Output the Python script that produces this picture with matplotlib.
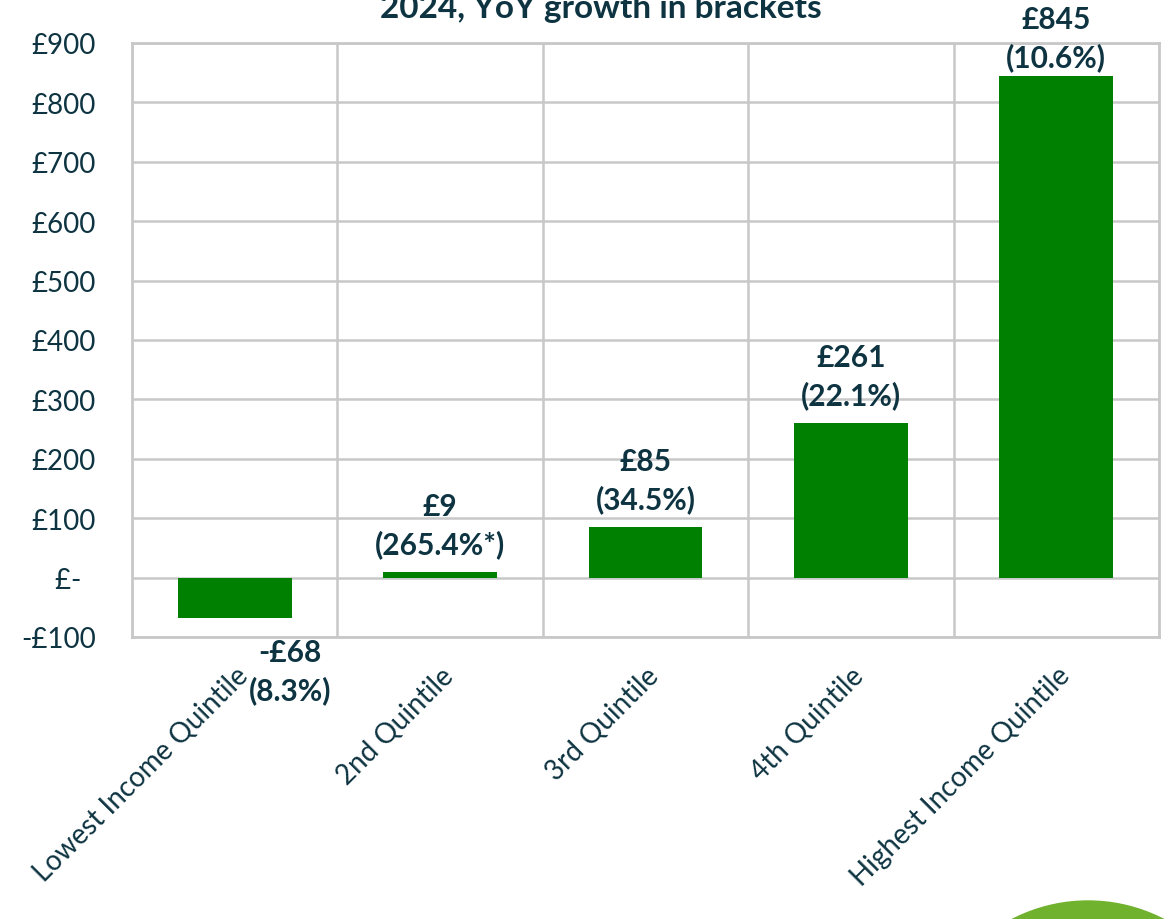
import matplotlib
matplotlib.use("Agg")
import matplotlib.pyplot as plt
from matplotlib.patches import Ellipse

categories = ["Lowest Income Quintile", "2nd Quintile", "3rd Quintile",
              "4th Quintile", "Highest Income Quintile"]
values = [-68, 9, 85, 261, 845]
growth = ["8.3%", "265.4%*", "34.5%", "22.1%", "10.6%"]
value_text = ["-£68", "£9", "£85", "£261", "£845"]
yticks = [-100, 0, 100, 200, 300, 400, 500, 600, 700, 800, 900]
ytick_labels = ["-£100", "£-  ", "£100", "£200", "£300", "£400", "£500",
                "£600", "£700", "£800", "£900"]

TXT = "#0E3442"
GREEN = "#008000"
GRID = "#C8C8C8"
FONT = ["Lato", "DejaVu Sans"]
plt.rcParams['font.family'] = FONT

W, H = 1168, 920
fig = plt.figure(figsize=(W / 100, H / 100), dpi=100)
ax = fig.add_axes([132 / W, 1 - 638 / H, (1159 - 132) / W, (638 - 44) / H])

x = list(range(len(categories)))
ax.bar(x, values, width=0.555, color=GREEN, zorder=3)
ax.set_xlim(-0.5, len(categories) - 0.5)
ax.set_ylim(-100, 900)

ax.set_yticks(yticks)
ax.set_yticklabels(ytick_labels, fontsize=20, color=TXT)
ax.yaxis.grid(True, color=GRID, linewidth=1.8, zorder=0)
ax.set_xticks([i + 0.5 for i in x[:-1]], minor=True)
ax.xaxis.grid(True, which='minor', color=GRID, linewidth=1.8, zorder=0)
ax.tick_params(axis='x', which='both', length=0)
ax.tick_params(axis='y', length=0, pad=26)
ax.set_xticks(x)
ax.set_xticklabels(categories, rotation=45, ha='right', va='top',
                   rotation_mode='anchor', fontsize=20, color=TXT)
ax.tick_params(axis='x', pad=18)
for s in ax.spines.values():
    s.set_color(GRID)
    s.set_linewidth(2)

for i, (v, vt, g) in enumerate(zip(values, value_text, growth)):
    if v >= 0:
        off = 10 if v < 800 else 3
        ax.annotate(f"{vt}\n({g})", xy=(i, v), xytext=(0, off),
                    textcoords='offset points', ha='center', va='bottom',
                    fontsize=21.5, fontweight='bold', color=TXT,
                    linespacing=1.38, zorder=4, annotation_clip=False)
    else:
        ax.annotate(f"{vt}\n({g})", xy=(i, -100), xytext=(40, -1),
                    textcoords='offset points', ha='center', va='top',
                    fontsize=21.5, fontweight='bold', color=TXT,
                    linespacing=1.38, zorder=4, annotation_clip=False)

fig.text(601 / W, 1 - 18 / H, "2024, YoY growth in brackets", ha='center',
         va='baseline', fontsize=24, fontweight='bold', color=TXT)

ell = Ellipse((1088 / W, 1 - 1067 / H), 330 / W, 330 / H,
              transform=fig.transFigure, color="#70B22D", zorder=0)
fig.patches.append(ell)

fig.savefig("out.png", dpi=100)
